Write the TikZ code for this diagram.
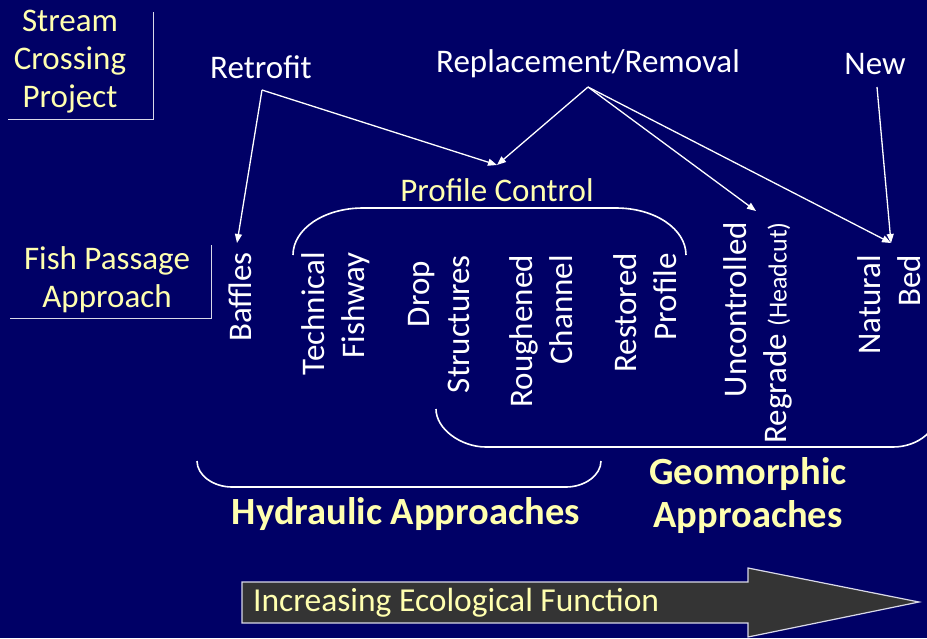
\documentclass[tikz,border=0pt]{standalone}
\usepackage{fontspec}
\setmainfont{Carlito}
\usetikzlibrary{arrows.meta}
\definecolor{bg}{RGB}{0,0,102}
\definecolor{ylw}{RGB}{255,255,175}
\definecolor{agray}{RGB}{52,52,52}
\newcommand{\fz}[2]{\fontsize{#1}{#2}\selectfont}
\begin{document}
\begin{tikzpicture}[x=1pt,y=-1pt,
  wlbl/.style={text=white,inner sep=0pt,font=\fz{33}{39}},
  ylbl/.style={text=ylw,inner sep=0pt,font=\fz{33}{38}},
  vert/.style={text=white,inner sep=0pt,font=\fz{33}{40},rotate=90,anchor=east,align=right},
  boldlbl/.style={text=ylw,inner sep=0pt,font=\bfseries\fz{38.5}{43},align=center},
  boxline/.style={draw=white!85!bg,line width=1pt},
  bracket/.style={draw=white,line width=1.6pt},
  arr/.style={draw=white,line width=1.3pt,-{Triangle[length=9pt,width=7pt]}},
  bigarrow/.style={draw=white!85!bg,line width=1.2pt,fill=agray}]
\fill[bg] (0,0) rectangle (927,638);
\useasboundingbox (0,0) rectangle (927,638);

% left labels
\node[ylbl,align=center] (scp) at (70,62) {Stream\\Crossing\\Project};
\coordinate (scpA) at (153,12);
\coordinate (scpB) at (153,119);
\coordinate (scpC) at (8,119);
\draw[boxline] (scpA) -- (scpB) -- (scpC);

\node[ylbl,align=center] (fpa) at (107,280) {Fish Passage\\Approach};
\coordinate (fpaA) at (211,245);
\coordinate (fpaB) at (211,318);
\coordinate (fpaC) at (10,318);
\draw[boxline] (fpaA) -- (fpaB) -- (fpaC);

% top labels
\node[wlbl] (retro) at (261,67) {Retrofit};
\node[wlbl] (repl) at (588,64) {Replacement/Removal};
\node[wlbl] (new) at (875,64) {New};

\node[ylbl,font=\fz{33}{36}] (pc) at (497,190) {Profile Control};

% vertical items
\node[vert] (baffles) at (240,252) {Baffles};
\node[vert] (tech) at (336,252) {Technical\\Fishway};
\node[vert] (drop) at (439,255) {Drop\hspace*{6pt}\\Structures};
\node[vert] (rough) at (541,255) {Roughened\\Channel};
\node[vert] (rest) at (645,253) {Restored\\Profile};
\node[vert] (unc) at (758,222) {Uncontrolled\\Regrade {\fz{26}{30}(Headcut)}};
\node[vert] (nat) at (889,255) {Natural\\Bed};

% arrow anchor points
\coordinate (rS) at (262,90);
\coordinate (pS) at (588,87);
\coordinate (nS) at (877,87);
\coordinate (bafT) at (237,243);
\coordinate (pcT) at (497,165);
\coordinate (uncT) at (756,211);
\coordinate (natT) at (891,243);

\draw[arr] (rS) -- (bafT);
\draw[arr] (rS) -- (pcT);
\draw[arr] (pS) -- (pcT);
\draw[arr] (pS) -- (uncT);
\draw[arr] (pS) -- (natT);
\draw[arr] (nS) -- (natT);

% profile control bracket
\draw[bracket] (293,255) .. controls (293,229) and (324,208) .. (363,208)
  -- (616,208) .. controls (655,208) and (686,229) .. (686,255);

% geomorphic bracket
\draw[bracket] (436,409) .. controls (436,429) and (461,447) .. (486,447)
  -- (893,447) .. controls (918,447) and (940,430) .. (940,405);

% hydraulic bracket
\draw[bracket] (197,461) .. controls (197,475) and (213,487) .. (232,487)
  -- (566,487) .. controls (585,487) and (601,475) .. (601,461);

\node[boldlbl] (hyd) at (406,514) {Hydraulic Approaches};
\node[boldlbl] (geo) at (748,496) {Geomorphic\\Approaches};

% big arrow
\draw[bigarrow] (242,582) -- (748,582) -- (748,568) -- (919,602)
  -- (748,637) -- (748,623) -- (242,623) -- cycle;
\node[ylbl,anchor=west,font=\fz{33.5}{38}] (inc) at (253,603) {Increasing Ecological Function};
\end{tikzpicture}
\end{document}
